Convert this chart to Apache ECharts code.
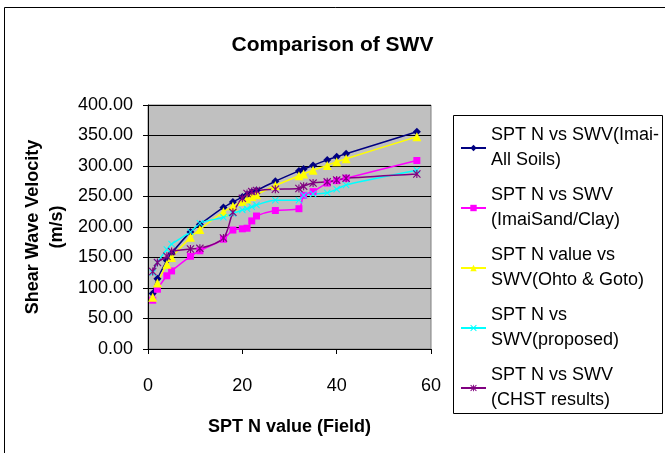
<!DOCTYPE html>
<html>
<head>
<meta charset="utf-8">
<script src="https://cdn.jsdelivr.net/npm/echarts@6/dist/echarts.min.js"></script>
<style>
  html, body { margin: 0; padding: 0; background: #fff; }
  #chart { width: 665px; height: 453px; }
</style>
</head>
<body>
<div id="chart"></div>
<script>
// SPT N (field) values shared by all five curves
var sptN = [1, 2, 4, 5, 9, 11, 16, 18, 20, 21, 22, 23, 27, 32, 33, 35, 38, 40, 42, 57];

var imaiAll = [91, 115, 145, 157, 192, 204, 232, 241, 249, 253, 257, 260, 275, 292, 295, 301, 310, 315, 320, 356];
var imaiSandClay = [80, 98, 120, 128, 152, 161, 180, 195, 197, 198, 210, 218, 227, 230, 252, 258, 272, 276, 280, 309];
var ohtoGoto = [85, 108, 139, 150, 183, 196, 225, 234, 242, 246, 250, 253, 268, 284, 287, 293, 301, 307, 312, 348];
var proposed = [125, 142, 163, 172, 192, 206, 216, 222, 228, 230, 233, 236, 244, 244, 252, 254, 256, 262, 269, 293];
var chst = [127, 142, 152, 160, 164, 165, 182, 224, 247, 255, 258, 260, 262, 263, 267, 272, 274, 277, 280, 287];

var seriesNames = [
  'SPT N vs SWV(Imai-\nAll Soils)',
  'SPT N vs SWV\n(ImaiSand/Clay)',
  'SPT N value vs\nSWV(Ohto & Goto)',
  'SPT N vs\nSWV(proposed)',
  'SPT N vs SWV\n(CHST results)'
];

var xMark = 'path://M1,0L5,4L9,0L10,1L6,5L10,9L9,10L5,6L1,10L0,9L4,5L0,1Z';
var starMark = 'path://M1,0L5,4L9,0L10,1L6,5L10,9L9,10L5,6L1,10L0,9L4,5L0,1Z M4.3,0L5.7,0L5.7,10L4.3,10Z';

function pairs(ys) {
  return sptN.map(function (n, i) { return [n, ys[i]] })
}

function makeSeries(name, ys, color, symbol, size) {
  return {
    name: name,
    type: 'line',
    data: pairs(ys),
    smooth: 0.3,
    symbol: symbol,
    symbolSize: size,
    showSymbol: true,
    itemStyle: { color: color },
    lineStyle: { color: color, width: 1.5 },
    animation: false
  }
}

var chart = echarts.init(document.getElementById('chart'))
chart.setOption({
  backgroundColor: '#fff',
  title: {
    text: 'Comparison of SWV',
    left: 'center',
    top: 30,
    textStyle: { fontFamily: 'Liberation Sans', fontSize: 21, fontWeight: 'bold', color: '#000' }
  },
  graphic: [
    {
      type: 'rect',
      shape: { x: 4.5, y: 7.5, width: 670, height: 460 },
      style: { fill: 'none', stroke: '#000', lineWidth: 1 },
      z: -10
    },
    {
      type: 'rect',
      shape: { x: 453.5, y: 115.5, width: 209, height: 298 },
      style: { fill: '#fff', stroke: '#000', lineWidth: 1 },
      z: -5
    }
  ],
  grid: {
    left: 148,
    top: 105,
    width: 283,
    height: 244,
    show: true,
    backgroundColor: '#C0C0C0',
    borderColor: '#808080',
    borderWidth: 1
  },
  legend: {
    orient: 'vertical',
    left: 455,
    top: 118,
    itemWidth: 25,
    itemHeight: 8,
    itemGap: 10,
    textStyle: { fontFamily: 'Liberation Sans', fontSize: 18, lineHeight: 25, color: '#000' },
    data: seriesNames
  },
  xAxis: {
    type: 'value',
    min: 0,
    max: 60,
    interval: 20,
    name: 'SPT N value (Field)',
    nameLocation: 'middle',
    nameGap: 69,
    nameTextStyle: { fontFamily: 'Liberation Sans', fontSize: 18, fontWeight: 'bold', color: '#000' },
    axisLine: { lineStyle: { color: '#000', width: 1 } },
    axisTick: { show: true, length: 5, lineStyle: { color: '#000' } },
    axisLabel: { margin: 28, fontFamily: 'Liberation Sans', fontSize: 18, color: '#000' },
    splitLine: { show: false }
  },
  yAxis: {
    type: 'value',
    min: 0,
    max: 400,
    interval: 50,
    name: 'Shear Wave Velocity\n(m/s)',
    nameLocation: 'middle',
    nameRotate: 90,
    nameGap: 79,
    nameTextStyle: { fontFamily: 'Liberation Sans', fontSize: 18, fontWeight: 'bold', color: '#000', lineHeight: 24 },
    axisLine: { show: true, lineStyle: { color: '#000', width: 1 } },
    axisTick: { show: true, length: 5, lineStyle: { color: '#000' } },
    axisLabel: {
      margin: 15,
      fontFamily: 'Liberation Sans',
      fontSize: 18,
      color: '#000',
      formatter: function (v) { return v.toFixed(2) }
    },
    splitLine: { show: true, lineStyle: { color: '#000', width: 1 } }
  },
  series: [
    makeSeries(seriesNames[0], imaiAll, '#000080', 'diamond', 8),
    makeSeries(seriesNames[1], imaiSandClay, '#FF00FF', 'rect', 7),
    makeSeries(seriesNames[2], ohtoGoto, '#FFFF00', 'triangle', 9),
    makeSeries(seriesNames[3], proposed, '#00FFFF', xMark, 7),
    makeSeries(seriesNames[4], chst, '#800080', starMark, 8)
  ]
})
</script>
</body>
</html>
